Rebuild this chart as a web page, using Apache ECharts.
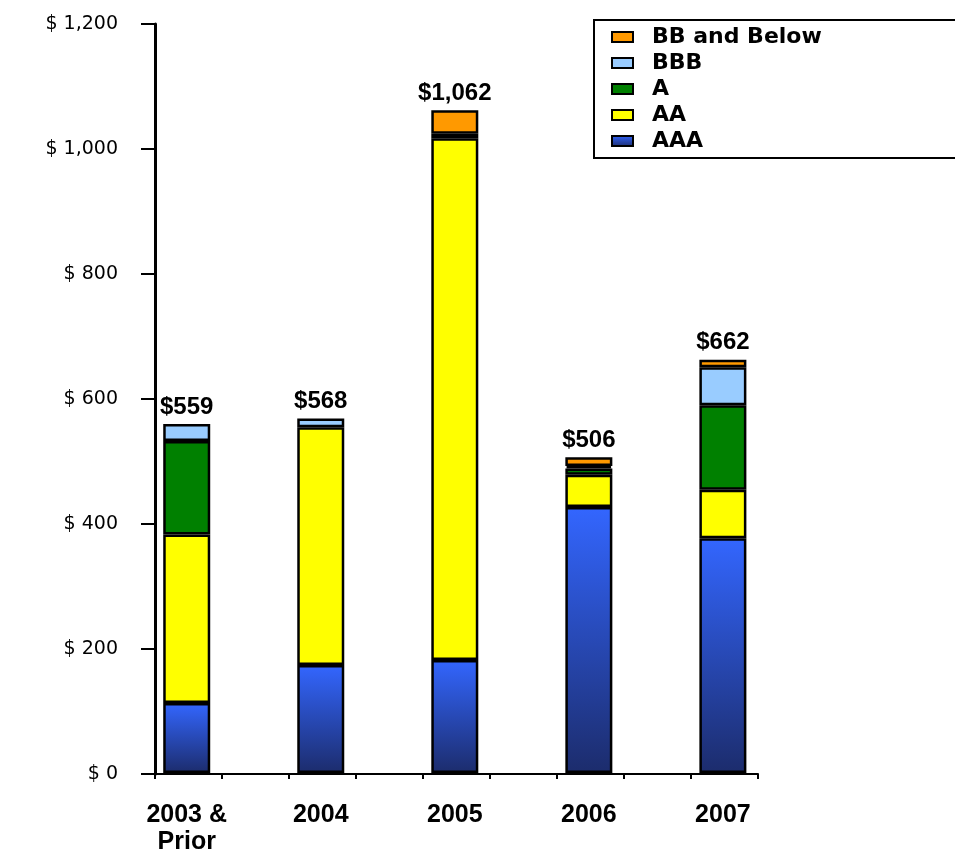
<!DOCTYPE html>
<html>
<head>
<meta charset="utf-8">
<script src="https://cdn.jsdelivr.net/npm/echarts@6/dist/echarts.min.js"></script>
<style>
  html, body { margin: 0; padding: 0; background: #fff; }
  #chart { width: 955px; height: 856px; }
</style>
</head>
<body>
<div id="chart"></div>
<script>
// data ($ millions)
var years = ['2003 &\nPrior', '2004', '2005', '2006', '2007'];
var aaa = [112, 173, 181, 426, 376];
var aa = [270, 381, 836, 52, 78];
var a = [150, 0, 0, 10, 135];
var bbb = [27, 14, 7, 4, 61];
var bbBelow = [0, 0, 38, 14, 12];
var totals = [559, 568, 1062, 506, 662];
var yTicks = [0, 200, 400, 600, 800, 1000, 1200];

var myChart = echarts.init(document.getElementById('chart'));

function barSeries(name, data, color) {
  return {
    name: name,
    type: 'bar',
    stack: 'all',
    xAxisIndex: 0,
    yAxisIndex: 0,
    barWidth: 47,
    // empty segments get no outline, otherwise they show up as a thick line
    data: data.map(function (v) {
      return v === 0 ? { value: 0, itemStyle: { borderWidth: 0 } } : v;
    }),
    itemStyle: { color: color, borderColor: '#000', borderWidth: 2.5 },
    emphasis: { disabled: true }
  };
}

var aaaColor = new echarts.graphic.LinearGradient(0, 0, 0, 1, [
  { offset: 0, color: '#3366ff' },
  { offset: 1, color: '#1c2c6c' }
]);

// top segment carries the total label
var topSeries = barSeries('BB and Below', bbBelow, '#ff9900');
topSeries.label = {
  show: true,
  position: 'top',
  distance: 5,
  color: '#000',
  fontFamily: 'Liberation Sans, Arial',
  fontWeight: 'bold',
  fontSize: 24,
  formatter: function (p) {
    return '$' + totals[p.dataIndex].toLocaleString('en-US');
  }
};

var option = {
  animation: false,
  backgroundColor: '#fff',
  grid: [
    // bars
    { left: 119.7, right: 165.1, top: 24, bottom: 82 },
    // axis frame
    { left: 155, right: 197, top: 24, bottom: 82 }
  ],
  legend: {
    data: ['BB and Below', 'BBB', 'A', 'AA', 'AAA'],
    orient: 'vertical',
    left: 594,
    top: 20,
    padding: [6, 300, 6, 17],
    borderColor: '#000',
    borderWidth: 2,
    icon: 'rect',
    itemWidth: 21,
    itemHeight: 10,
    itemGap: 4,
    itemStyle: { borderColor: '#000', borderWidth: 2 },
    selectedMode: false,
    textStyle: {
      color: '#000',
      fontFamily: 'DejaVu Sans',
      fontWeight: 'bold',
      fontSize: 22,
      lineHeight: 20,
      padding: [0, 0, 0, 14]
    }
  },
  xAxis: [
    {
      type: 'category',
      gridIndex: 0,
      data: years,
      axisLine: { show: false },
      axisTick: { show: false },
      axisLabel: {
        color: '#000',
        fontFamily: 'Liberation Sans, Arial',
        fontWeight: 'bold',
        fontSize: 25,
        lineHeight: 27,
        margin: 29
      }
    },
    {
      type: 'value',
      gridIndex: 1,
      min: 0,
      max: 9,
      interval: 1,
      axisLine: { show: true, lineStyle: { color: '#000', width: 2 } },
      axisTick: { show: true, length: 5, lineStyle: { color: '#000', width: 2 } },
      axisLabel: { show: false },
      splitLine: { show: false }
    }
  ],
  yAxis: [
    {
      type: 'value',
      gridIndex: 0,
      min: 0,
      max: 1200,
      show: false
    },
    {
      type: 'value',
      gridIndex: 1,
      min: yTicks[0],
      max: yTicks[yTicks.length - 1],
      interval: 200,
      axisLine: { show: true, lineStyle: { color: '#000', width: 3 } },
      axisTick: { show: true, length: 14, lineStyle: { color: '#000', width: 2 } },
      splitLine: { show: false },
      axisLabel: {
        color: '#000',
        fontFamily: 'DejaVu Sans',
        fontSize: 19,
        margin: 37,
        formatter: function (v) {
          return '$ ' + v.toLocaleString('en-US');
        }
      }
    }
  ],
  series: [
    barSeries('AAA', aaa, aaaColor),
    barSeries('AA', aa, '#ffff00'),
    barSeries('A', a, '#008000'),
    barSeries('BBB', bbb, '#99ccff'),
    topSeries
  ]
};

myChart.setOption(option);
</script>
</body>
</html>
